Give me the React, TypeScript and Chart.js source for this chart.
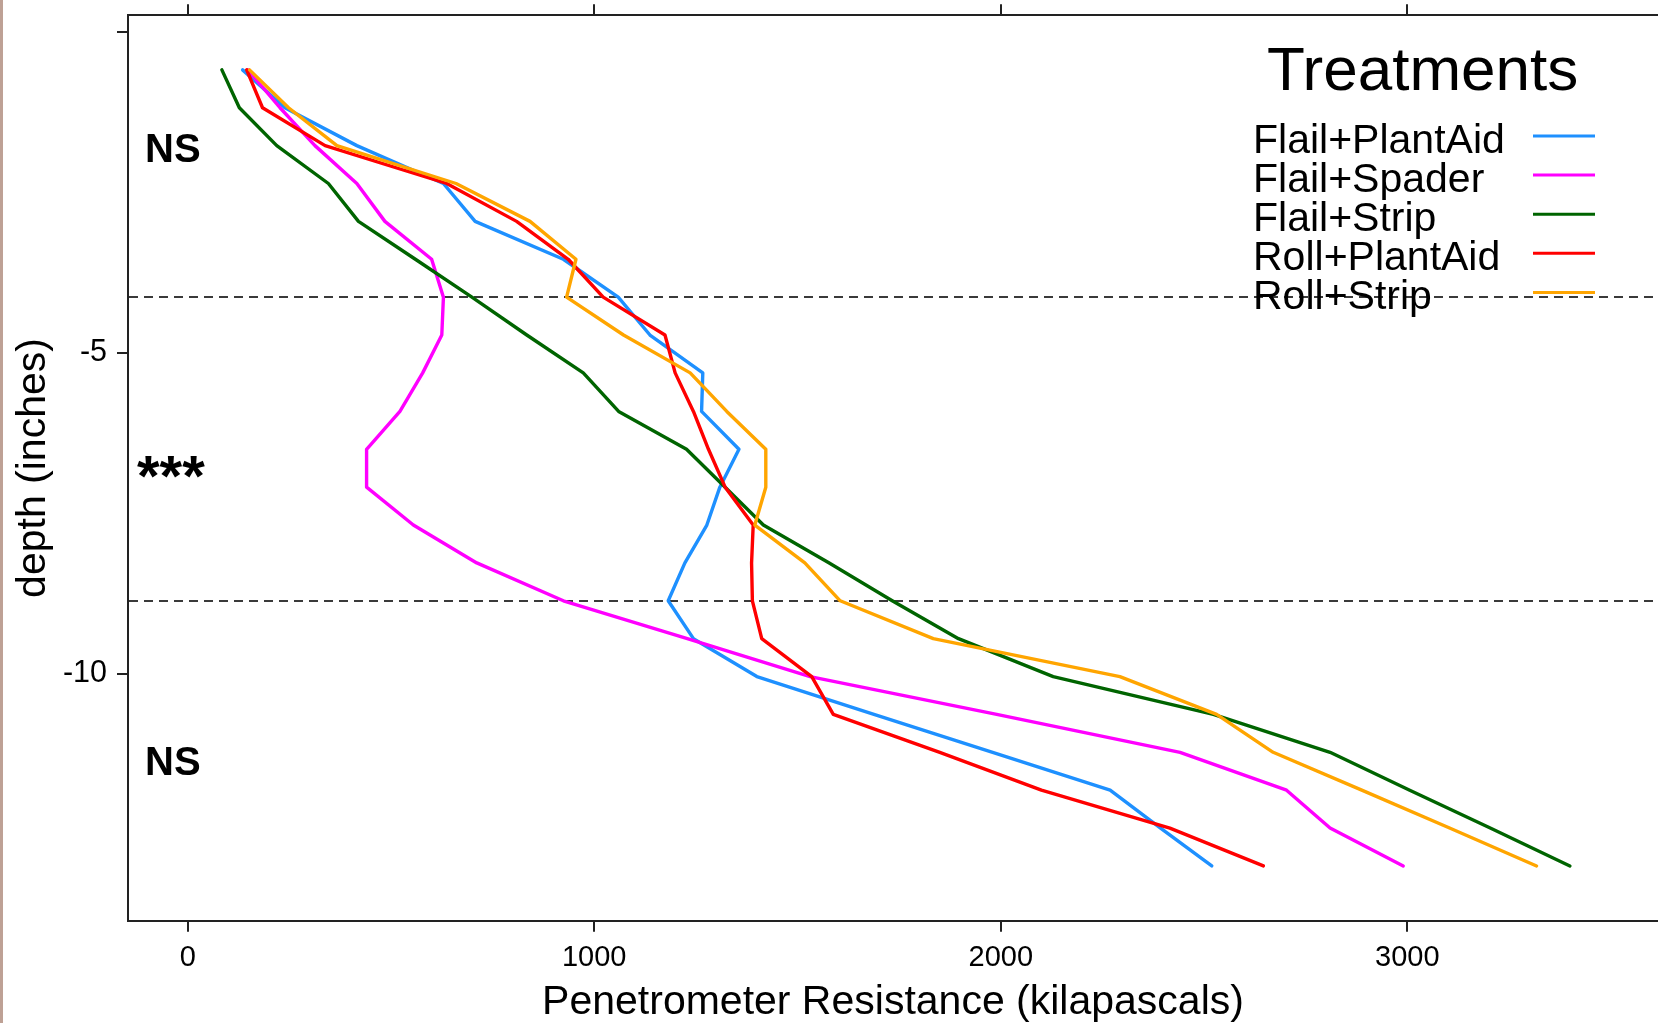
import React, { useEffect, useRef } from "react";
import { Chart, registerables } from "chart.js";

Chart.register(...registerables);

// ---- Data ----
const depthInches = [
  -0.59, -1.18, -1.77, -2.36, -2.95, -3.54, -4.13, -4.72, -5.31, -5.91, -6.5,
  -7.09, -7.68, -8.27, -8.86, -9.45, -10.04, -10.63, -11.22, -11.81, -12.4, -12.99,
];

const treatmentNames = ["Flail+PlantAid", "Flail+Spader", "Flail+Strip", "Roll+PlantAid", "Roll+Strip"];

const flailPlantAid = [135, 239, 416, 629, 707, 924, 1059, 1137, 1267, 1264, 1356, 1309, 1277, 1223, 1182, 1244, 1400, 1688, 1980, 2269, 2393, 2519];
const flailSpader = [148, 227, 313, 416, 485, 600, 629, 625, 578, 522, 440, 440, 555, 711, 924, 1229, 1531, 1990, 2441, 2703, 2810, 2990];
const flailStrip = [84, 127, 219, 346, 420, 560, 699, 834, 973, 1060, 1227, 1322, 1416, 1578, 1733, 1896, 2129, 2523, 2810, 3006, 3204, 3400];
const rollPlantAid = [145, 184, 338, 637, 809, 936, 1022, 1174, 1199, 1244, 1281, 1322, 1391, 1387, 1389, 1412, 1535, 1588, 1850, 2100, 2416, 2646];
const rollStrip = [152, 248, 367, 660, 842, 955, 932, 1072, 1236, 1326, 1422, 1422, 1395, 1518, 1605, 1834, 2293, 2531, 2670, 2888, 3104, 3318];

const seriesValues = [flailPlantAid, flailSpader, flailStrip, rollPlantAid, rollStrip];
const seriesColors = ["#1E90FF", "#FF00FF", "#006400", "#FF0000", "#FFA500"];

const xTickValues = [0, 1000, 2000, 3000];
const yTickValues = [0, -5, -10];
const yTickLabels = ["", "-5", "-10"];

const layerBoundaries = [-4.13, -8.86];
const significanceLabels = ["NS", "***", "NS"];

const legendTitle = "Treatments";
const xTitle = "Penetrometer Resistance (kilapascals)";
const yTitle = "depth (inches)";

// ---- Layout constants ----
const W = 1658;
const H = 1023;
const FONT = "'Liberation Sans', Arial, sans-serif";
const X_MIN = -146.9;
const X_MAX = 3616.7;
const Y_MIN = -13.843;
const Y_MAX = 0.26;
const AXIS_COLOR = "#222";

const overlayPlugin = {
  id: "overlay",
  beforeDatasetsDraw(chart: any) {
    const { ctx, chartArea } = chart;
    const yS = chart.scales.y;
    ctx.save();
    ctx.strokeStyle = "#3a3a3a";
    ctx.lineWidth = 2;
    ctx.setLineDash([9, 6]);
    layerBoundaries.forEach((d) => {
      const py = Math.round(yS.getPixelForValue(d));
      ctx.beginPath();
      ctx.moveTo(chartArea.left + 1, py);
      ctx.lineTo(chartArea.right, py);
      ctx.stroke();
    });
    ctx.restore();
  },
  afterDraw(chart: any) {
    const { ctx } = chart;
    ctx.save();
    ctx.fillStyle = "#000";
    ctx.textBaseline = "alphabetic";
    ctx.textAlign = "left";

    // significance annotations
    const sigPos = [
      { x: 145, y: 161.7, size: 40 },
      { x: 137, y: 496, size: 58 },
      { x: 145, y: 775, size: 40 },
    ];
    significanceLabels.forEach((t, i) => {
      ctx.font = `bold ${sigPos[i].size}px ${FONT}`;
      ctx.fillText(t, sigPos[i].x, sigPos[i].y);
    });

    // legend
    ctx.font = `62px ${FONT}`;
    ctx.fillText(legendTitle, 1267, 90);
    ctx.font = `41px ${FONT}`;
    treatmentNames.forEach((name, i) => {
      ctx.fillStyle = "#000";
      ctx.fillText(name, 1253, 153.3 + 38.9 * i);
      ctx.strokeStyle = seriesColors[i];
      ctx.lineWidth = 3;
      ctx.beginPath();
      const ly = 136 + 39.1 * i;
      ctx.moveTo(1533, ly);
      ctx.lineTo(1595, ly);
      ctx.stroke();
    });
    ctx.restore();
  },
};

export default function App() {
  const canvasRef = useRef<HTMLCanvasElement | null>(null);

  useEffect(() => {
    const canvas = canvasRef.current;
    if (!canvas) return;

    const datasets = treatmentNames.map((name, i) => ({
      label: name,
      data: seriesValues[i].map((v, j) => ({ x: v, y: depthInches[j] })),
      borderColor: seriesColors[i],
      backgroundColor: seriesColors[i],
      borderWidth: 3.4,
      pointRadius: 0,
      pointHoverRadius: 0,
      fill: false,
      tension: 0,
      borderJoinStyle: "round" as const,
      borderCapStyle: "round" as const,
      order: treatmentNames.length - i,
      xAxisID: "x",
      yAxisID: "y",
    }));

    const gridOpts = {
      drawOnChartArea: false,
      drawTicks: true,
      tickLength: 11,
      color: AXIS_COLOR,
      lineWidth: 2,
    };
    const borderOpts = { display: true, color: AXIS_COLOR, width: 2 };
    const zeroPad = (s: any) => {
      s.paddingTop = 0;
      s.paddingBottom = 0;
      s.paddingLeft = 0;
      s.paddingRight = 0;
    };

    const chart = new Chart(canvas, {
      type: "line",
      data: { datasets },
      plugins: [overlayPlugin],
      options: {
        responsive: false,
        animation: false,
        devicePixelRatio: 1,
        layout: { padding: 0, autoPadding: false },
        plugins: {
          legend: { display: false },
          tooltip: { enabled: false },
          title: { display: false },
        },
        scales: {
          x: {
            type: "linear",
            position: "bottom",
            min: X_MIN,
            max: X_MAX,
            afterBuildTicks: (s: any) => {
              s.ticks = xTickValues.map((v) => ({ value: v }));
            },
            afterFit: (s: any) => {
              s.height = 102.3;
              zeroPad(s);
            },
            ticks: {
              font: { family: FONT, size: 29, lineHeight: 1.2 },
              color: "#000",
              padding: 9,
              maxRotation: 0,
              autoSkip: false,
              callback: (v: any) => String(v),
            },
            grid: gridOpts,
            border: borderOpts,
            title: {
              display: true,
              text: xTitle,
              color: "#000",
              font: { family: FONT, size: 41, lineHeight: 0.9 },
              padding: { top: 0, bottom: 1.7 },
            },
          },
          x2: {
            type: "linear",
            position: "top",
            min: X_MIN,
            max: X_MAX,
            afterBuildTicks: (s: any) => {
              s.ticks = xTickValues.map((v) => ({ value: v }));
            },
            afterFit: (s: any) => {
              s.height = 15.3;
              zeroPad(s);
            },
            ticks: { display: false },
            grid: gridOpts,
            border: borderOpts,
          },
          y: {
            type: "linear",
            position: "left",
            min: Y_MIN,
            max: Y_MAX,
            afterBuildTicks: (s: any) => {
              s.ticks = yTickValues.map((v) => ({ value: v }));
            },
            afterFit: (s: any) => {
              s.width = 128;
              zeroPad(s);
            },
            ticks: {
              font: { family: FONT, size: 30.5, lineHeight: 1 },
              color: "#000",
              padding: 10,
              autoSkip: false,
              callback: (_v: any, idx: number) => yTickLabels[idx],
            },
            grid: gridOpts,
            border: borderOpts,
            title: {
              display: true,
              text: yTitle,
              color: "#000",
              font: { family: FONT, size: 41, lineHeight: 0.9 },
              padding: { top: 15.6, bottom: 0 },
            },
          },
        },
      },
    } as any);

    return () => {
      chart.destroy();
    };
  }, []);

  return (
    <div style={{ position: "fixed", left: 0, top: 0, width: W, height: H, background: "#fff", overflow: "hidden" }}>
      <canvas ref={canvasRef} width={W} height={H} style={{ display: "block", width: W, height: H }} />
      <div style={{ position: "absolute", left: 0, top: 0, width: 3, height: H, background: "#bea195" }} />
    </div>
  );
}
